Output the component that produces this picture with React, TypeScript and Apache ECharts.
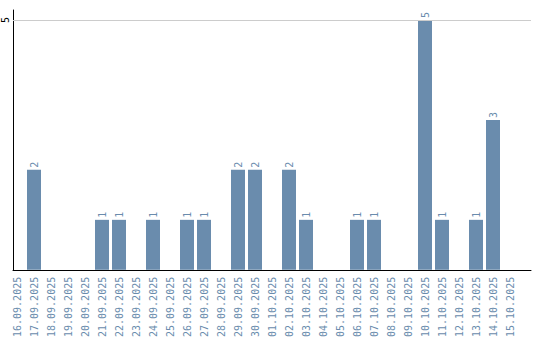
import React, { useEffect, useRef } from "react";
import * as echarts from "echarts";

const categories: string[] = [
  "16.09.2025", "17.09.2025", "18.09.2025", "19.09.2025", "20.09.2025",
  "21.09.2025", "22.09.2025", "23.09.2025", "24.09.2025", "25.09.2025",
  "26.09.2025", "27.09.2025", "28.09.2025", "29.09.2025", "30.09.2025",
  "01.10.2025", "02.10.2025", "03.10.2025", "04.10.2025", "05.10.2025",
  "06.10.2025", "07.10.2025", "08.10.2025", "09.10.2025", "10.10.2025",
  "11.10.2025", "12.10.2025", "13.10.2025", "14.10.2025", "15.10.2025",
];

const values: number[] = [
  0, 2, 0, 0, 0, 1, 1, 0, 1, 0,
  1, 1, 0, 2, 2, 0, 2, 1, 0, 0,
  1, 1, 0, 0, 5, 1, 0, 1, 3, 0,
];

const yTickLabels: number[] = [5];

const BAR = "#6a8cad";
const TEXT = "#6a8cad";
const FONT = "DejaVu Sans Mono";

export default function App() {
  const ref = useRef<HTMLDivElement>(null);
  useEffect(() => {
    if (!ref.current) return;
    const chart = echarts.init(ref.current, undefined, { renderer: "svg" });
    chart.setOption({
      animation: false,
      backgroundColor: "#ffffff",
      grid: [
        { left: 8.5, width: 510, top: 10, height: 260, containLabel: false },
        { left: 11, right: 9, top: 10, height: 260, containLabel: false },
      ],
      xAxis: [
        {
          type: "category",
          gridIndex: 0,
          data: categories,
          axisLine: { show: false },
          axisTick: { show: false },
          splitLine: { show: false },
          axisLabel: {
            interval: 0,
            rotate: 90,
            margin: 7,
            color: TEXT,
            fontFamily: FONT,
            fontSize: 10,
          },
        },
        {
          type: "value",
          gridIndex: 1,
          min: 0,
          max: 1,
          axisLine: { show: true, lineStyle: { color: "#000", width: 1 } },
          axisTick: { show: false },
          axisLabel: { show: false },
          splitLine: { show: false },
        },
      ],
      yAxis: [
        {
          type: "value",
          gridIndex: 0,
          min: 0,
          max: 5.2,
          show: false,
          splitLine: { show: false },
        },
        {
          type: "value",
          gridIndex: 1,
          min: 0,
          max: 5.2,
          interval: 5,
          axisLine: { show: true, lineStyle: { color: "#000", width: 1 } },
          axisTick: { show: false },
          splitLine: { show: false },
          axisLabel: {
            rotate: 90,
            margin: 3,
            color: "#000",
            fontFamily: FONT,
            fontSize: 10,
            formatter: (v: number) => (yTickLabels.includes(v) ? String(v) : ""),
          },
        },
      ],
      series: [
        {
          type: "bar",
          xAxisIndex: 0,
          yAxisIndex: 0,
          data: values.map((v) => (v === 0 ? null : v)),
          barWidth: 14,
          itemStyle: { color: BAR },
          label: {
            show: true,
            position: "top",
            rotate: 90,
            align: "left",
            verticalAlign: "middle",
            distance: 2,
            color: TEXT,
            fontFamily: FONT,
            fontSize: 10,
          },
        },
        {
          type: "line",
          xAxisIndex: 1,
          yAxisIndex: 1,
          data: [[0, 0]],
          showSymbol: false,
          lineStyle: { opacity: 0 },
          silent: true,
          markLine: {
            silent: true,
            symbol: "none",
            label: { show: false },
            lineStyle: { color: "#cccccc", width: 1, type: "solid" },
            data: yTickLabels.map((v) => ({ yAxis: v })),
          },
        },
      ],
    });
    return () => chart.dispose();
  }, []);
  return (
    <div
      ref={ref}
      style={{ position: "fixed", left: 0, top: 0, width: 540, height: 340 }}
    />
  );
}
